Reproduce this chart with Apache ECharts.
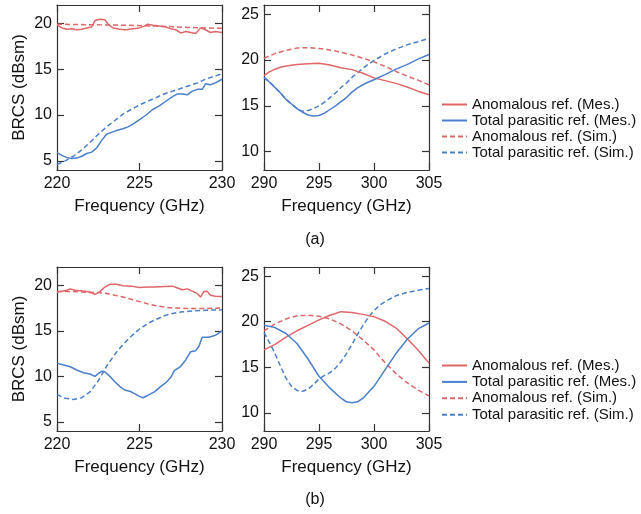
<!DOCTYPE html>
<html>
<head>
<meta charset="utf-8">
<script src="https://cdn.jsdelivr.net/npm/echarts@6/dist/echarts.min.js"></script>
<style>
  html, body { margin: 0; padding: 0; background: #fff; }
  #chart { width: 641px; height: 514px; }
</style>
</head>
<body>
<div id="chart"></div>
<script>
// noms des courbes (ordre de la légende)
const seriesNames = ['Anomalous ref. (Mes.)', 'Total parasitic ref. (Mes.)', 'Anomalous ref. (Sim.)', 'Total parasitic ref. (Sim.)'];
const yTicksLow = [5, 10, 15, 20];
const yTicksHigh = [10, 15, 20, 25];

// (a) bande 220-230 GHz
const aLowAnomMesF = [220, 220.3, 220.6, 220.9, 221.2, 221.5, 221.8, 222.1, 222.3, 222.6, 222.9, 223.1, 223.4, 223.8, 224.2, 224.6, 225, 225.3, 225.5, 225.8, 226.2, 226.6, 226.9, 227.2, 227.5, 227.8, 228.1, 228.4, 228.7, 229, 229.3, 229.6, 230];
const aLowAnomMes = [19.8, 19.5, 19.35, 19.4, 19.3, 19.35, 19.5, 19.6, 20.3, 20.45, 20.4, 19.9, 19.5, 19.35, 19.3, 19.4, 19.5, 19.7, 19.9, 19.8, 19.7, 19.6, 19.4, 19.3, 18.95, 19.1, 19.0, 18.9, 19.5, 19.3, 19.0, 19.1, 19.0];
const aLowAnomSimF = [220, 222, 224, 226, 228, 230];
const aLowAnomSim = [19.9, 19.85, 19.8, 19.7, 19.55, 19.45];
const aLowParaMesF = [220, 220.3, 220.6, 220.9, 221.2, 221.5, 221.8, 222.1, 222.4, 222.7, 223, 223.3, 223.6, 224, 224.3, 224.6, 225, 225.4, 225.8, 226.2, 226.6, 227, 227.3, 227.6, 227.9, 228.2, 228.5, 228.8, 229, 229.3, 229.6, 230];
const aLowParaMes = [5.9, 5.6, 5.35, 5.25, 5.3, 5.5, 5.8, 5.95, 6.4, 7.2, 7.9, 8.1, 8.3, 8.5, 8.7, 9.0, 9.5, 10.0, 10.6, 11.0, 11.5, 12.0, 12.3, 12.3, 12.2, 12.6, 12.8, 12.8, 13.4, 13.3, 13.5, 13.9];
const aLowParaSimF = [220, 220.5, 221, 221.5, 222, 222.5, 223, 223.5, 224, 224.5, 225, 225.5, 226, 226.5, 227, 227.5, 228, 228.5, 229, 229.5, 230];
const aLowParaSim = [4.6, 5.0, 5.5, 6.2, 7.0, 7.9, 8.7, 9.4, 10.1, 10.6, 11.1, 11.5, 11.9, 12.3, 12.6, 12.9, 13.2, 13.5, 13.9, 14.2, 14.5];

// (a) bande 290-305 GHz
const aHighAnomMesF = [290, 290.5, 291, 291.5, 292, 293, 294, 295, 296, 297, 298, 299, 300, 301, 302, 303, 304, 305];
const aHighAnomMes = [18.3, 18.7, 19.0, 19.2, 19.35, 19.5, 19.6, 19.65, 19.45, 19.15, 18.95, 18.55, 18.05, 17.75, 17.45, 17.05, 16.6, 16.2];
const aHighAnomSimF = [290, 291, 292, 293, 294, 295, 296, 297, 298, 299, 300, 301, 302, 303, 304, 305];
const aHighAnomSim = [20.2, 20.7, 21.05, 21.3, 21.35, 21.25, 21.1, 20.85, 20.55, 20.2, 19.8, 19.3, 18.75, 18.25, 17.8, 17.3];
const aHighParaMesF = [290, 290.5, 291, 291.5, 292, 292.5, 293, 293.5, 294, 294.5, 295, 295.5, 296, 296.5, 297, 297.5, 298, 298.5, 299, 299.5, 300, 301, 302, 303, 304, 305];
const aHighParaMes = [18.1, 17.6, 17.0, 16.4, 15.7, 15.2, 14.7, 14.3, 14.0, 13.9, 13.95, 14.2, 14.6, 15.0, 15.45, 15.9, 16.5, 16.95, 17.3, 17.6, 17.85, 18.4, 19.0, 19.5, 20.1, 20.6];
const aHighParaSimF = [290, 290.5, 291, 291.5, 292, 292.5, 293, 293.5, 294, 294.5, 295, 295.5, 296, 296.5, 297, 297.5, 298, 298.5, 299, 299.5, 300, 300.5, 301, 302, 303, 304, 305];
const aHighParaSim = [18.1, 17.6, 17.0, 16.4, 15.7, 15.2, 14.7, 14.4, 14.5, 14.7, 15.0, 15.4, 15.9, 16.4, 17.0, 17.5, 18.1, 18.6, 19.1, 19.55, 19.95, 20.3, 20.65, 21.2, 21.65, 22.0, 22.35];

// (b) bande 220-230 GHz
const bLowAnomMesF = [220, 220.3, 220.6, 220.8, 221.1, 221.4, 221.7, 222, 222.3, 222.6, 222.9, 223.2, 223.6, 224, 224.5, 225, 225.5, 226, 226.5, 227, 227.3, 227.6, 227.9, 228.2, 228.5, 228.7, 228.9, 229.1, 229.3, 229.6, 230];
const bLowAnomMes = [19.25, 19.35, 19.45, 19.6, 19.45, 19.4, 19.35, 19.25, 19.0, 19.3, 19.8, 20.1, 20.1, 19.95, 19.9, 19.75, 19.8, 19.8, 19.85, 19.9, 19.7, 19.5, 19.6, 19.35, 19.1, 18.7, 19.3, 19.35, 18.9, 18.8, 18.75];
const bLowAnomSimF = [220, 221, 222, 222.5, 223, 223.5, 224, 224.5, 225, 225.5, 226, 226.5, 227, 228, 229, 230];
const bLowAnomSim = [19.3, 19.3, 19.2, 19.2, 19.1, 18.9, 18.7, 18.45, 18.2, 17.95, 17.75, 17.6, 17.5, 17.45, 17.45, 17.5];
const bLowParaMesF = [220, 220.4, 220.8, 221.2, 221.6, 222, 222.3, 222.5, 222.7, 222.9, 223.2, 223.5, 223.8, 224.1, 224.5, 225, 225.2, 225.5, 225.9, 226.3, 226.6, 226.9, 227.1, 227.5, 227.8, 228.1, 228.4, 228.6, 228.8, 229.2, 229.6, 230];
const bLowParaMes = [11.45, 11.25, 11.05, 10.7, 10.4, 10.25, 10.0, 10.3, 10.55, 10.5, 10.0, 9.4, 8.9, 8.5, 8.3, 7.8, 7.65, 7.9, 8.3, 8.9, 9.3, 9.9, 10.6, 11.1, 11.8, 12.7, 12.8, 13.3, 14.3, 14.3, 14.5, 15.0];
const bLowParaSimF = [220, 220.5, 221, 221.5, 222, 222.5, 223, 223.5, 224, 224.5, 225, 225.5, 226, 226.5, 227, 227.5, 228, 229, 230];
const bLowParaSim = [8.0, 7.6, 7.45, 7.65, 8.3, 9.5, 11.1, 12.4, 13.5, 14.4, 15.2, 15.8, 16.25, 16.65, 16.9, 17.05, 17.15, 17.25, 17.3];

// (b) bande 290-305 GHz
const bHighAnomMesF = [290, 291, 292, 293, 294, 295, 296, 296.5, 297, 298, 299, 300, 301, 302, 303, 304, 305];
const bHighAnomMes = [16.9, 17.5, 18.3, 19.0, 19.6, 20.2, 20.7, 20.9, 21.1, 21.0, 20.8, 20.55, 20.05, 19.3, 18.15, 16.9, 15.45];
const bHighAnomSimF = [290, 291, 292, 293, 294, 295, 296, 297, 298, 299, 300, 301, 302, 303, 304, 305];
const bHighAnomSim = [19.0, 19.75, 20.3, 20.65, 20.7, 20.6, 20.3, 19.75, 19.0, 18.0, 16.9, 15.5, 14.3, 13.3, 12.5, 11.85];
const bHighParaMesF = [290, 291, 292, 293, 294, 295, 296, 297, 297.5, 298, 298.5, 299, 300, 301, 302, 303, 304, 305];
const bHighParaMes = [19.6, 19.35, 18.7, 17.6, 15.9, 14.0, 12.7, 11.6, 11.2, 11.1, 11.2, 11.6, 12.9, 14.7, 16.5, 18.05, 19.2, 19.85];
const bHighParaSimF = [290, 290.5, 291, 291.5, 292, 292.5, 293, 293.5, 294, 294.5, 295, 295.5, 296, 296.5, 297, 297.5, 298, 298.5, 299, 299.5, 300, 300.5, 301, 302, 303, 304, 305];
const bHighParaSim = [18.8, 17.7, 16.5, 15.1, 13.8, 12.9, 12.45, 12.35, 12.6, 13.1, 13.7, 14.1, 14.4, 14.9, 15.6, 16.5, 17.5, 18.6, 19.6, 20.5, 21.2, 21.8, 22.2, 22.85, 23.2, 23.45, 23.65];

const RED = '#e0666a';
const BLUE = '#4a7fcb';
const FONT = 'Liberation Sans, Arial, sans-serif';
const AXIS_COLOR = '#333';

const zip = (xs, ys) => xs.map((x, i) => [x, ys[i]]);

// grilles : (a) gauche, (a) droite, (b) gauche, (b) droite
const grids = [
  { left: 57, top: 5, width: 165, height: 165 },
  { left: 264, top: 5, width: 165, height: 165 },
  { left: 57, top: 267, width: 165, height: 164 },
  { left: 264, top: 267, width: 165, height: 164 }
];

const xAxes = [];
const yAxes = [];

function addAxes(gi, xMin, xMax, yMin, yMax, yTicks, withYName) {
  const tick = { show: true, inside: true, length: 7, lineStyle: { color: AXIS_COLOR, width: 1.2 } };
  const line = { show: true, onZero: false, lineStyle: { color: AXIS_COLOR, width: 1.2 } };
  // axe du bas
  xAxes.push({
    type: 'value', gridIndex: gi, min: xMin, max: xMax, interval: 5, position: 'bottom',
    axisLine: line, axisTick: tick, splitLine: { show: false },
    axisLabel: { fontSize: 16, color: '#111', fontFamily: FONT, margin: 6 },
    name: 'Frequency (GHz)', nameLocation: 'middle', nameGap: 28,
    nameTextStyle: { fontSize: 17, color: '#111', fontFamily: FONT }
  });
  // axe du haut (juste les graduations)
  xAxes.push({
    type: 'value', gridIndex: gi, min: xMin, max: xMax, interval: 5, position: 'top',
    axisLine: line, axisTick: tick, splitLine: { show: false }, axisLabel: { show: false }
  });
  yAxes.push({
    type: 'value', gridIndex: gi, min: yMin, max: yMax, position: 'left',
    axisLine: line, splitLine: { show: false },
    axisTick: Object.assign({ customValues: yTicks }, tick),
    axisLabel: { customValues: yTicks, fontSize: 16, color: '#111', fontFamily: FONT, margin: 5 },
    name: withYName ? 'BRCS (dBsm)' : '', nameLocation: 'middle', nameGap: 29,
    nameTextStyle: { fontSize: 17, color: '#111', fontFamily: FONT }
  });
  yAxes.push({
    type: 'value', gridIndex: gi, min: yMin, max: yMax, position: 'right',
    axisLine: line, splitLine: { show: false },
    axisTick: Object.assign({ customValues: yTicks }, tick),
    axisLabel: { show: false }
  });
}

addAxes(0, 220, 230, 4, 22, yTicksLow, true);
addAxes(1, 290, 305, 8, 26, yTicksHigh, false);
addAxes(2, 220, 230, 4, 22, yTicksLow, true);
addAxes(3, 290, 305, 8, 26, yTicksHigh, false);

function mk(name, gi, xs, ys, color, dashed) {
  return {
    name, type: 'line', xAxisIndex: gi * 2, yAxisIndex: gi * 2,
    data: zip(xs, ys), symbol: 'none', showSymbol: false, smooth: false, z: dashed ? 2 : 3,
    lineStyle: { color, width: 1.5, type: dashed ? [5, 3] : 'solid' },
    itemStyle: { color }
  };
}

const series = [
  mk(seriesNames[2], 0, aLowAnomSimF, aLowAnomSim, RED, true),
  mk(seriesNames[3], 0, aLowParaSimF, aLowParaSim, BLUE, true),
  mk(seriesNames[0], 0, aLowAnomMesF, aLowAnomMes, RED, false),
  mk(seriesNames[1], 0, aLowParaMesF, aLowParaMes, BLUE, false),

  mk(seriesNames[2], 1, aHighAnomSimF, aHighAnomSim, RED, true),
  mk(seriesNames[3], 1, aHighParaSimF, aHighParaSim, BLUE, true),
  mk(seriesNames[0], 1, aHighAnomMesF, aHighAnomMes, RED, false),
  mk(seriesNames[1], 1, aHighParaMesF, aHighParaMes, BLUE, false),

  mk(seriesNames[2], 2, bLowAnomSimF, bLowAnomSim, RED, true),
  mk(seriesNames[3], 2, bLowParaSimF, bLowParaSim, BLUE, true),
  mk(seriesNames[0], 2, bLowAnomMesF, bLowAnomMes, RED, false),
  mk(seriesNames[1], 2, bLowParaMesF, bLowParaMes, BLUE, false),

  mk(seriesNames[2], 3, bHighAnomSimF, bHighAnomSim, RED, true),
  mk(seriesNames[3], 3, bHighParaSimF, bHighParaSim, BLUE, true),
  mk(seriesNames[0], 3, bHighAnomMesF, bHighAnomMes, RED, false),
  mk(seriesNames[1], 3, bHighParaMesF, bHighParaMes, BLUE, false)
];

function legendAt(top, gap) {
  return {
    data: seriesNames, orient: 'vertical', left: 441, top, padding: 0,
    itemWidth: 25, itemHeight: 14, itemGap: gap, selectedMode: false,
    itemStyle: { opacity: 0 },
    lineStyle: { width: 2 },
    textStyle: { fontSize: 15, color: '#111', fontFamily: FONT }
  };
}

const chart = echarts.init(document.getElementById('chart'), null, { renderer: 'canvas' });
chart.setOption({
  animation: false,
  backgroundColor: '#fff',
  grid: grids,
  xAxis: xAxes,
  yAxis: yAxes,
  legend: [legendAt(97, 1), legendAt(358, 1.4)],
  series,
  graphic: [
    { type: 'text', x: 315, y: 240, style: { text: '(a)', fill: '#111', font: '16px Liberation Sans', align: 'center', verticalAlign: 'middle' } },
    { type: 'text', x: 315, y: 500, style: { text: '(b)', fill: '#111', font: '16px Liberation Sans', align: 'center', verticalAlign: 'middle' } }
  ]
});
</script>
</body>
</html>
